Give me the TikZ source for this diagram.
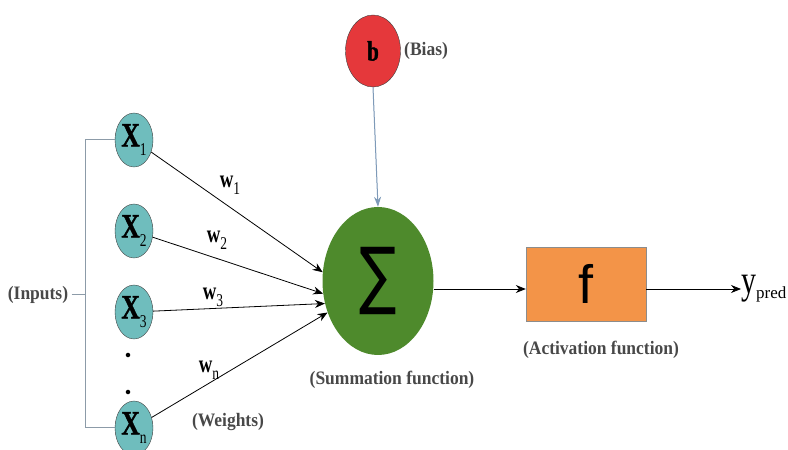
\documentclass[tikz,border=0pt]{standalone}
\usepackage{fontspec}
\setmainfont{Liberation Serif}
\newfontfamily\condserif[FakeStretch=0.75,BoldFont={Liberation Serif Bold}]{Liberation Serif}
\newfontfamily\heavyserif[FakeStretch=0.75,FakeBold=1.2]{Liberation Serif Bold}
\newfontfamily\notefont[FakeStretch=0.92,BoldFont={Liberation Serif Bold}]{Liberation Serif}
\newfontfamily\sumfont[FakeStretch=0.75]{DejaVu Sans}
\newfontfamily\actfont{Liberation Sans}
\usetikzlibrary{shapes.geometric,arrows.meta}

\definecolor{InputColor}{HTML}{6FBDBD}
\definecolor{BiasColor}{HTML}{E5383B}
\definecolor{SumColor}{HTML}{4E8A2C}
\definecolor{ActColor}{HTML}{F39448}
\definecolor{BiasLine}{HTML}{7E9AB8}
\definecolor{BiasHead}{HTML}{2E5C96}
\definecolor{BracketColor}{HTML}{8C9BA8}
\definecolor{NoteColor}{HTML}{484848}

\newcommand{\lowsub}[1]{\raisebox{-0.6ex}{\condserif\mdseries\fontsize{18}{18}\selectfont #1}}

\begin{document}
\begin{tikzpicture}[x=1pt,y=1pt,
  inputnode/.style={ellipse,draw=black!75,fill=InputColor,minimum width=38pt,
    minimum height=54pt,inner sep=0pt,font={\heavyserif\fontsize{34}{34}\selectfont}},
  biasnode/.style={ellipse,draw=black!75,fill=BiasColor,minimum width=55pt,
    minimum height=72pt,inner sep=0pt,font={\heavyserif\fontsize{28}{28}\selectfont}},
  sumnode/.style={ellipse,fill=SumColor,minimum width=111pt,minimum height=148pt,inner sep=0pt},
  actbox/.style={rectangle,draw=black!45,fill=ActColor,minimum width=120pt,minimum height=74pt,inner sep=0pt},
  weightlbl/.style={font={\condserif\bfseries\fontsize{25}{25}\selectfont}},
  note/.style={text=NoteColor,font={\notefont\bfseries\fontsize{19}{20}\selectfont}},
  dotmark/.style={circle,fill=black,inner sep=1.6pt},
  wire/.style={-{Stealth[length=10pt,width=8pt]},line width=0.8pt},
  bracket/.style={draw=BracketColor,line width=1pt}]

  % ===== Parámetros =====
  \def\brx{85}
  \useasboundingbox (0,0) rectangle (788,450);

  % ===== Entradas =====
  \node[inputnode] (x1) at (134,310) {X\lowsub{1}};
  \node[inputnode] (x2) at (134,219) {X\lowsub{2}};
  \node[inputnode] (x3) at (134,138) {X\lowsub{3}};
  \node[inputnode] (xn) at (134,22)  {X\lowsub{n}};
  \node[dotmark] (dot1) at (128,95) {};
  \node[dotmark] (dot2) at (128,58) {};

  % ===== Llave de entradas =====
  \coordinate (brline) at (\brx,0);
  \node[note] (inputs) at (38,155) {(Inputs)};
  \draw[bracket] (x1.west) -- (x1.west -| brline) -- (xn.west -| brline) -- (xn.west);
  \draw[bracket] (inputs.east) -- (inputs.east -| brline);

  % ===== Bias y suma =====
  \node[biasnode] (bias) at (373,399) {b};
  \node[note,right] (biaslbl) at (bias.east) {(Bias)};
  \node[sumnode] (sum) at (378,169) {\sumfont\fontsize{74}{74}\selectfont ∑};
  \node[note] (sumlbl) at (392,70) {(Summation function)};
  \draw[-{Stealth[length=10pt,width=7pt]},draw=BiasLine,fill=BiasHead,line width=1pt]
        (bias.south) -- (sum.north);

  % ===== Pesos =====
  \draw[wire] (x1) -- (sum.171);
  \draw[wire] (x2) -- (sum.193);
  \draw[wire] (x3) -- (sum.203);
  \draw[wire] (xn) -- (sum.212);
  \node[weightlbl] (w1) at (230,265) {w\lowsub{1}};
  \node[weightlbl] (w2) at (217,210) {w\lowsub{2}};
  \node[weightlbl] (w3) at (213,153) {w\lowsub{3}};
  \node[weightlbl] (wn) at (209,80)  {w\lowsub{n}};
  \node[note] (weights) at (228,28) {(Weights)};

  % ===== Activación y salida =====
  \node[actbox] (act) at (586,166) {\actfont\fontsize{54}{54}\selectfont f};
  \node[note] (actlbl) at (601,100) {(Activation function)};
  \node[anchor=west,inner sep=0pt] (ypred) at (741,161)
        {{\condserif\fontsize{40}{40}\selectfont y}\raisebox{-1.1ex}{\fontsize{17}{17}\selectfont pred}};
  \draw[wire] (sum.east |- ypred.west) -- (act.west |- ypred.west);
  \draw[wire] (act.east |- ypred.west) -- (ypred.west);

\end{tikzpicture}
\end{document}
